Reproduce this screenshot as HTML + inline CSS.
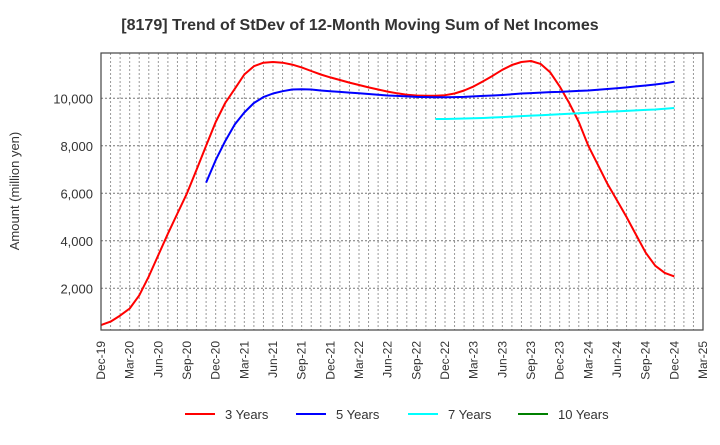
<!DOCTYPE html>
<html><head><meta charset="utf-8"><style>
body{margin:0;background:#fff;font-family:"Liberation Sans",Arial,sans-serif}
svg text{font-family:"Liberation Sans",Arial,sans-serif;fill:#333}
</style></head><body>
<svg id="chart" width="720" height="440" xmlns="http://www.w3.org/2000/svg">
<text x="360" y="30" text-anchor="middle" font-size="16" font-weight="bold">[8179]  Trend of StDev of 12-Month Moving Sum of Net Incomes</text>
<text transform="translate(19,191) rotate(-90)" text-anchor="middle" font-size="13">Amount (million yen)</text>
<g id="grid"></g>
<g id="series"></g>
<rect x="101" y="53" width="602" height="277" fill="none" stroke="#444" stroke-width="1.2"/>
<g id="xlabels"></g>
<g id="ylabels"></g>
<g>
<line x1="185" y1="414" x2="215" y2="414" stroke="#ff0000" stroke-width="2"/><text x="225" y="419" font-size="13">3 Years</text>
<line x1="296" y1="414" x2="326" y2="414" stroke="#0000ff" stroke-width="2"/><text x="336" y="419" font-size="13">5 Years</text>
<line x1="408" y1="414" x2="438" y2="414" stroke="#00ffff" stroke-width="2"/><text x="448" y="419" font-size="13">7 Years</text>
<line x1="518" y1="414" x2="548" y2="414" stroke="#008000" stroke-width="2"/><text x="558" y="419" font-size="13">10 Years</text>
</g>
</svg>
<script>
const xTickLabels=["Dec-19","Mar-20","Jun-20","Sep-20","Dec-20","Mar-21","Jun-21","Sep-21","Dec-21","Mar-22","Jun-22","Sep-22","Dec-22","Mar-23","Jun-23","Sep-23","Dec-23","Mar-24","Jun-24","Sep-24","Dec-24","Mar-25"];
const yTicks=[2000,4000,6000,8000,10000];
const start3=0;
const values3=[450,600,850,1150,1700,2500,3400,4300,5150,6000,7000,8000,9000,9800,10400,11000,11350,11500,11530,11500,11420,11300,11150,11000,10880,10770,10660,10560,10460,10370,10280,10210,10150,10120,10110,10110,10130,10200,10330,10500,10720,10950,11200,11400,11530,11570,11450,11100,10500,9800,9000,8000,7200,6400,5700,5000,4250,3500,2950,2650,2500];
const start5=11;
const values5=[6450,7400,8200,8900,9400,9800,10050,10200,10300,10370,10380,10370,10330,10300,10270,10240,10210,10180,10150,10120,10100,10080,10060,10050,10040,10040,10050,10060,10080,10100,10120,10140,10170,10200,10220,10240,10260,10270,10290,10310,10330,10360,10390,10420,10460,10500,10540,10580,10630,10700];
const start7=35;
const values7=[9130,9130,9140,9150,9160,9170,9190,9210,9230,9250,9270,9290,9310,9330,9350,9370,9390,9410,9430,9450,9470,9490,9510,9530,9560,9590];
const values10=[];
const NS="http://www.w3.org/2000/svg";
const L=101,R=703,T=53,B=330,months=63;
const x=m=>L+(R-L)*m/months;
const y=v=>98.3-(v-10000)*0.02375;
function mk(tag,attrs,parent){const e=document.createElementNS(NS,tag);for(const k in attrs)e.setAttribute(k,attrs[k]);document.getElementById(parent).appendChild(e);return e;}
for(let m=1;m<months;m++){const e=mk('line',{x1:x(m),x2:x(m),y1:T,y2:B,stroke:'#999','stroke-width':1,'stroke-dasharray':'2,2'},'grid');

}
yTicks.forEach(v=>{const e=mk('line',{x1:L,x2:R,y1:y(v),y2:y(v),stroke:'#777','stroke-width':1,'stroke-dasharray':'2,2'},'grid');


const t=mk('text',{x:L-8,y:y(v)+5,'text-anchor':'end','font-size':13},'ylabels');t.textContent=v.toLocaleString('en-US');

});
xTickLabels.forEach((s,i)=>{const px=x(i*3);const t=mk('text',{transform:`translate(${px+4},341) rotate(-90)`,'text-anchor':'end','font-size':12},'xlabels');t.textContent=s;

});
function series(vals,st,color,name){if(!vals.length)return;const d=vals.map((v,i)=>(i?'L':'M')+x(st+i).toFixed(1)+','+y(v).toFixed(1)).join(' ');
const p=mk('path',{d:d,fill:'none',stroke:color,'stroke-width':2,'stroke-linejoin':'round'},'series');

}
series(values3,start3,'#ff0000','line-3-years');
series(values5,start5,'#0000ff','line-5-years');
series(values7,start7,'#00ffff','line-7-years');
series(values10,0,'#008000','line-10-years');
</script>
</body></html>
